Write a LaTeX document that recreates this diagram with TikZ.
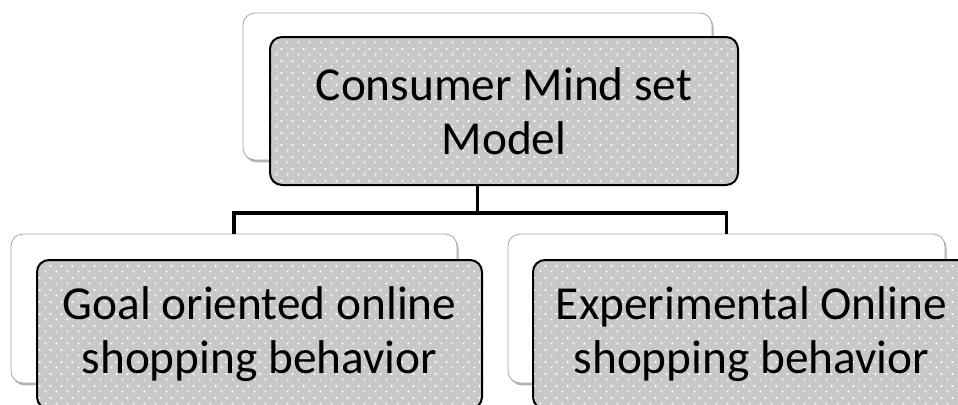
\documentclass[tikz,border=0pt]{standalone}
\usepackage{fontspec}
\setmainfont{Carlito}
\usetikzlibrary{patterns,shadows}
\definecolor{boxgray}{RGB}{200,200,200}
\pgfdeclarepatternformonly{smartdots}{\pgfqpoint{0pt}{0pt}}{\pgfqpoint{8.25pt}{9pt}}{\pgfqpoint{8.25pt}{9pt}}{%
  \pgfpathrectangle{\pgfqpoint{0.5pt}{0.5pt}}{\pgfqpoint{1.4pt}{1.4pt}}%
  \pgfpathrectangle{\pgfqpoint{4.6pt}{5pt}}{\pgfqpoint{1.4pt}{1.4pt}}%
  \pgfusepath{fill}%
}
\tikzset{
  backbox/.style={draw=gray!70, line width=0.6pt, fill=white, rounded corners=9pt,
    inner sep=0pt, outer sep=0pt,
    drop shadow={shadow xshift=1.2pt, shadow yshift=-1.8pt, opacity=0.3, fill=black}},
  frontbox/.style={draw=black, line width=1.5pt, preaction={fill=boxgray},
    pattern=smartdots, pattern color=white, rounded corners=9pt,
    inner sep=0pt, outer sep=0pt, align=center,
    font=\fontsize{35.5}{40.5}\selectfont},
  conn/.style={draw=black, line width=2.7pt}
}
\begin{document}
\begin{tikzpicture}[x=0.75pt,y=-0.75pt]
\useasboundingbox (0,0) rectangle (958,404);
\clip (0,0) rectangle (958,404);
% back boxes
\node[backbox, minimum width=351.75pt, minimum height=110.25pt] (tb) at (477.5,86.5) {};
\node[backbox, minimum width=334.5pt, minimum height=111.75pt] (lb) at (234,308.5) {};
\node[backbox, minimum width=327.75pt, minimum height=111.75pt] (rb) at (726.5,308.5) {};
% connectors
\coordinate (j) at (477.5,213);
\draw[conn] (tb.south) -- (j);
\draw[conn] (lb.north) |- (j) -| (rb.north);
% front boxes
\node[frontbox, minimum width=351pt, minimum height=111pt] (tf) at (504,111) {Consumer Mind set\\Model};
\node[frontbox, minimum width=333.75pt, minimum height=111.75pt] (lf) at (259.5,334.5) {Goal oriented online\\shopping behavior};
\node[frontbox, minimum width=327.75pt, minimum height=111.75pt] (rf) at (751.5,334.5) {Experimental Online\\shopping behavior};
\end{tikzpicture}
\end{document}
